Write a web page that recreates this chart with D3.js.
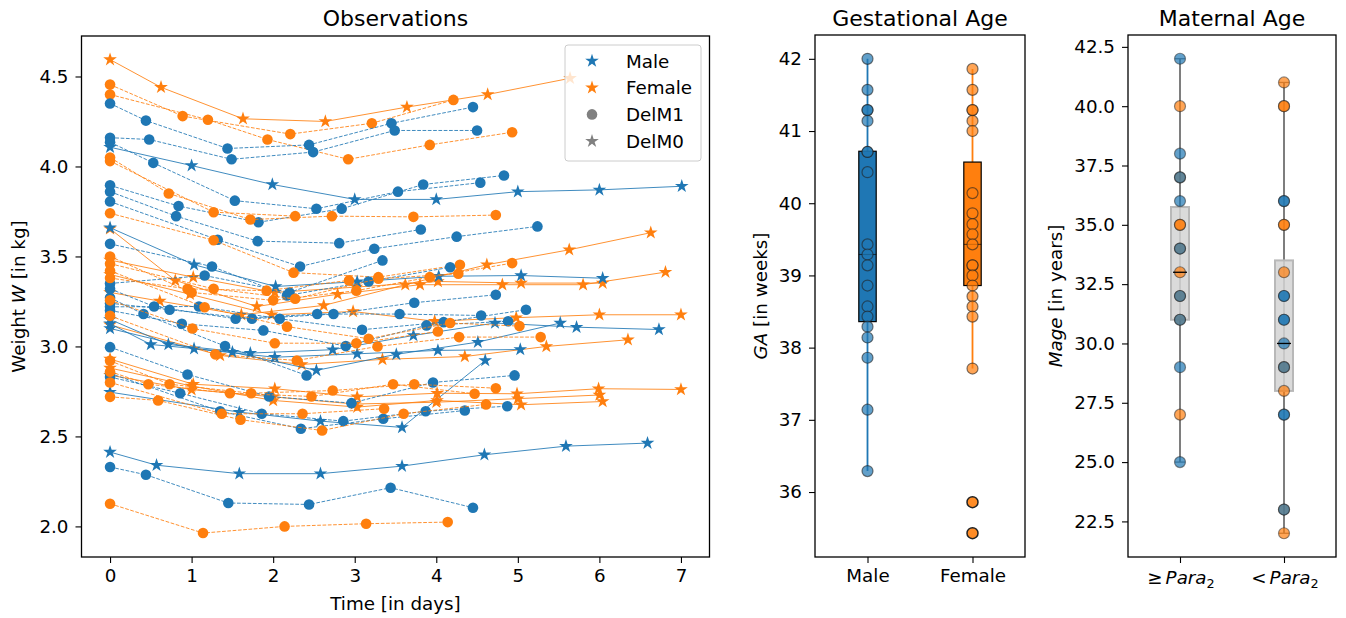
<!DOCTYPE html>
<html>
<head>
<meta charset="utf-8">
<script src="https://cdn.jsdelivr.net/npm/d3@7"></script>
<style>
body { margin: 0; background: #fff; }
text { font-family: "DejaVu Sans", sans-serif; }
</style>
</head>
<body>
<div id="cont"></div>
<script>
// ---- data ----
var sexes = ["F","F","F","M","M","M","M","M","F","F","M","M","F","F","F","F","F","F","M","M","M","M","M","M","M","F","F","F","F",
             "M","M","M","M","M","M","M","M","M","M","F","F","F","F","F","F","F","F","F","F"];
var delm1 = [0,1,1,1,1,0,1,1,1,1,1,1,1,0,0,0,0,0,0,0,0,0,0,0,1,1,0,0,0,
             1,1,1,1,1,1,1,1,1,1,1,1,1,1,1,1,1,1,1,1];
var obsDays = [
  [0,0.625,1.63,2.64,3.64,4.63,5.64],
  [0,0.89,2.21,3.21,4.21],
  [0,1.2,1.93,2.92,3.92,4.93],
  [0,0.44,1.44,2.44,3.45,4.45],
  [0,0.48,1.49,2.49,3.49,4.5],
  [0,1,1.99,3.0,4,5,6,7.01],
  [0,0.53,1.53,2.53,3.53,4.54],
  [0,0.84,1.82,2.84,3.84,4.83],
  [0,0.72,1.72,2.72,3.72,4.73],
  [0,1.27,2.27],
  [0,0.81,1.81,2.81,3.81],
  [0,1.32,2.33,3.24,4.25,5.24],
  [0,1.27,2.25,3.29,4.29],
  [0,0.8,1.8,2.79,3.8,4.81,5.8,6.81],
  [0,0.61,1.61,2.62,3.62,4.62,5.63,6.63],
  [0,1.02,2.02,3.02,4.02,5.04,6.04],
  [0,0.98,1.98,2.98,3.98,4.98,6.0,7.0],
  [0,1.35,2.35,3.34,4.35,5.35,6.35],
  [0,1.03,2.03,3.03,4.03,5.04,6.04],
  [0,0.5,1.5,2.53,3.51,4.51,5.52],
  [0,0.715,1.72,2.73,3.72,4.72,5.72,6.73],
  [0,1.03,2.02,3.03,4.02,5.03],
  [0,1.585,2.58,3.58,4.6],
  [0,0.57,1.585,2.58,3.58,4.59,5.59,6.59],
  [0,0.44,1.45,2.44,3.44,4.45],
  [0,1.14,2.14,3.14,4.14],
  [0,1.02,2.02,3.03,4.01,4.99,5.99,7.0],
  [0,1.0,2.0,3.03,4.01,5.04,6.04],
  [0,1.0,2.0,3.0,4.0,5.0,6.0],
  [0,1.25,2.17,3.17,4.17],
  [0,1.16,2.2,3.34],
  [0,0.54,1.54,2.54,3.55,4.55],
  [0,0.73,1.74,2.74,3.73,4.73],
  [0,1.09,2.08,3.09,4.09,5.1],
  [0,0.88,1.88,2.89,3.88,4.88],
  [0,0.41,1.41,2.41],
  [0,0.95,1.95,2.96,3.96,4.96],
  [0,0.86,1.86,2.86,3.87,4.87],
  [0,1.35,2.34,3.35,4.35],
  [0,1.0,2.0,3.02,3.92,4.93],
  [0,1.27,2.27,3.29,4.27],
  [0,1.16,2.17,3.17,4.17,5.02],
  [0,1.01,2.02,3.02,4.02],
  [0,1.29,2.29,3.28,4.28,5.28],
  [0,0.47,1.47,2.47,3.47,4.47],
  [0,0.73,1.73,2.73,3.73,4.73],
  [0,0.59,1.6,2.6,3.6,4.61],
  [0,1.37,2.36,3.36],
  [0,0.95,1.92,2.93]
];
var obsWeights = [
  [4.594,4.44,4.265,4.25,4.33,4.40,4.49],
  [4.455,4.28,4.18,4.24,4.37],
  [4.40,4.26,4.15,4.04,4.12,4.19],
  [4.35,4.255,4.10,4.12,4.24,4.33],
  [4.16,4.15,4.04,4.08,4.2,4.2],
  [4.107,4.005,3.9,3.817,3.817,3.86,3.87,3.89],
  [4.135,4.02,3.81,3.765,3.86,3.91],
  [3.895,3.78,3.69,3.765,3.9,3.95],
  [4.05,3.85,3.705,3.724,3.72,3.73],
  [4.03,3.746,3.724],
  [3.86,3.724,3.585,3.574,3.65],
  [3.805,3.593,3.444,3.543,3.61,3.667],
  [3.74,3.59,3.41,3.385,3.454],
  [3.654,3.367,3.222,3.29,3.343,3.343,3.343,3.413],
  [3.30,3.252,3.176,3.228,3.343,3.454,3.537,3.632],
  [3.48,3.385,3.30,3.33,3.361,3.352,3.352],
  [3.40,3.29,3.176,3.194,3.14,3.16,3.176,3.176],
  [3.12,2.95,2.90,2.928,2.944,3.0,3.037],
  [3.66,3.454,3.333,3.36,3.39,3.394,3.379],
  [3.126,3.011,2.968,2.867,2.956,3.024,3.13],
  [3.15,3.011,2.963,2.982,3.061,3.13,3.107,3.094],
  [3.10,2.987,2.94,2.959,2.978,2.983],
  [2.746,2.635,2.585,2.55,2.922],
  [2.413,2.34,2.293,2.293,2.335,2.398,2.446,2.463],
  [2.33,2.287,2.13,2.122,2.215,2.104],
  [2.126,1.963,2.0,2.015,2.024],
  [2.93,2.79,2.765,2.72,2.74,2.737,2.765,2.761],
  [2.88,2.78,2.70,2.663,2.70,2.676,2.694],
  [2.84,2.76,2.72,2.68,2.69,2.71,2.73],
  [3.57,3.444,3.283,3.361,3.44],
  [3.35,3.394,3.30,3.478],
  [3.32,3.222,3.154,3.18,3.18,3.172],
  [3.24,3.204,3.154,3.18,3.243,3.287],
  [3.22,3.222,3.154,3.093,3.135,3.204],
  [3.20,3.126,3.089,3.002,3.117,3.14],
  [3.27,3.18,3.002,2.839],
  [2.996,2.844,2.722,2.685,2.80,2.839],
  [2.83,2.74,2.626,2.585,2.64,2.668],
  [2.85,2.64,2.543,2.598,2.644],
  [3.50,3.30,3.256,3.31,3.385,3.463],
  [3.46,3.32,3.265,3.376,3.404],
  [3.42,3.218,3.11,3.043,3.13,3.113],
  [3.256,3.10,3.018,3.018,3.083],
  [3.17,2.956,2.922,3.0,3.052,3.052],
  [2.86,2.79,2.74,2.722,2.79,2.737],
  [2.92,2.79,2.74,2.755,2.79,2.768],
  [2.72,2.70,2.593,2.533,2.626,2.678],
  [2.80,2.626,2.626,2.654],
  [3.38,3.32,3.31,3.367]
];
var dayTicks = [0,1,2,3,4,5,6,7];
var weightTicks = [2.0,2.5,3.0,3.5,4.0,4.5];

var gaGroups = ["Male","Female"];
var gaMale = [42.0,41.57,41.29,41.29,41.14,40.71,40.71,40.43,39.43,39.29,39.14,38.86,38.57,38.43,38.29,38.14,37.86,37.14,36.29];
var gaFemale = [41.86,41.57,41.29,41.29,41.14,41.0,40.14,39.86,39.71,39.57,39.43,39.14,39.14,39.0,38.86,38.71,38.57,38.43,37.71,35.86,35.43];
var gaLow = [36.29,37.71], gaQ1 = [38.36,38.86], gaMed = [39.29,39.43], gaQ3 = [40.72,40.57], gaHigh = [42.0,41.86];
var gaTicks = [36,37,38,39,40,41,42];

var mageHighM = [42,38,37,36,34,32,31,29,25];
var mageHighF = [40,37,35,35,34,33,32,31,27];
var mageLowM = [36,36,32,32,31,31,30,29,27,27,23];
var mageLowF = [41,40,40,35,35,33,29,28,23,22];
var mageLow = [25,22], mageQ1 = [31,28], mageMed = [33,30], mageQ3 = [35.75,33.5], mageHigh = [42,41];
var mageTicks = [22.5,25,27.5,30,32.5,35,37.5,40,42.5];

// ---- drawing ----
var blue = "#1f77b4", orange = "#ff7f0e";
var colorOf = function(s) { return s === "M" ? blue : orange; };
var FS = "18.3px", TS = "22px";

var svg = d3.select("#cont").append("svg").attr("width", 1346).attr("height", 618);

var styleAxis = function(g) {
  g.select(".domain").remove();
  g.selectAll(".tick line").attr("stroke", "#000").attr("stroke-width", 1.1);
  g.selectAll(".tick text").attr("font-size", FS).attr("font-family", "DejaVu Sans").attr("fill", "#000");
};
var frame = function(x0, y0, x1, y1) {
  svg.append("rect").attr("x", x0).attr("y", y0).attr("width", x1 - x0).attr("height", y1 - y0)
    .attr("fill", "none").attr("stroke", "#000").attr("stroke-width", 1.3);
};
var star = d3.symbol().type(d3.symbolStar).size(58);

// Observations panel
var x1 = d3.scaleLinear().domain([-0.35, 7.35]).range([81.5, 709.5]);
var y1 = d3.scaleLinear().domain([1.83, 4.725]).range([557, 36]);

svg.append("g").attr("transform", "translate(0,557)")
  .call(d3.axisBottom(x1).tickValues(dayTicks).tickSize(6).tickPadding(6).tickFormat(d3.format("d")))
  .call(styleAxis);
svg.append("g").attr("transform", "translate(81.5,0)")
  .call(d3.axisLeft(y1).tickValues(weightTicks).tickSize(6).tickPadding(7).tickFormat(d3.format(".1f")))
  .call(styleAxis);

var line1 = d3.line().x(function(p) { return x1(p[0]); }).y(function(p) { return y1(p[1]); });
var plot1 = svg.append("g");
obsDays.forEach(function(ds, k) {
  var pts = ds.map(function(d, i) { return [d, obsWeights[k][i]]; });
  var c = colorOf(sexes[k]);
  var g = plot1.append("g");
  g.append("path").attr("d", line1(pts)).attr("fill", "none").attr("stroke", c)
    .attr("stroke-width", 1).attr("stroke-opacity", 0.85)
    .attr("stroke-dasharray", delm1[k] ? "3.7,1.6" : null);
  if (delm1[k]) {
    g.selectAll("circle").data(pts).enter().append("circle")
      .attr("cx", function(p) { return x1(p[0]); }).attr("cy", function(p) { return y1(p[1]); })
      .attr("r", 5.3).attr("fill", c);
  } else {
    g.selectAll("path.m").data(pts).enter().append("path").attr("class", "m")
      .attr("d", star).attr("fill", c)
      .attr("transform", function(p) { return "translate(" + x1(p[0]) + "," + y1(p[1]) + ")"; });
  }
});
frame(81.5, 36, 709.5, 557);

// legend
var leg = svg.append("g");
leg.append("rect").attr("x", 565).attr("y", 45).attr("width", 136).attr("height", 116).attr("rx", 3)
  .attr("fill", "#fff").attr("fill-opacity", 0.8).attr("stroke", "#ccc");
var legItems = [["Male", blue, "star"], ["Female", orange, "star"], ["DelM1", "#808080", "circle"], ["DelM0", "#808080", "star"]];
legItems.forEach(function(it, i) {
  var yy = 61 + i * 26.7;
  if (it[2] === "star") {
    leg.append("path").attr("d", star).attr("fill", it[1]).attr("transform", "translate(592," + yy + ")");
  } else {
    leg.append("circle").attr("cx", 592).attr("cy", yy).attr("r", 5.3).attr("fill", it[1]);
  }
  leg.append("text").attr("x", 626).attr("y", yy + 6.5).attr("font-size", FS).text(it[0]);
});

svg.append("text").attr("x", 395.5).attr("y", 26).attr("text-anchor", "middle").attr("font-size", TS).text("Observations");
svg.append("text").attr("x", 395.5).attr("y", 610).attr("text-anchor", "middle").attr("font-size", FS).text("Time [in days]");
var yl1 = svg.append("text").attr("transform", "translate(25,296.5) rotate(-90)").attr("text-anchor", "middle").attr("font-size", FS);
yl1.append("tspan").text("Weight ");
yl1.append("tspan").attr("font-style", "italic").text("W");
yl1.append("tspan").text(" [in kg]");

// Gestational Age panel
var x2 = d3.scaleLinear().domain([0.5, 2.5]).range([815, 1025]);
var y2 = d3.scaleLinear().domain([35.1, 42.33]).range([557, 35]);
svg.append("g").attr("transform", "translate(0,557)")
  .call(d3.axisBottom(x2).tickValues([1, 2]).tickSize(6).tickPadding(6).tickFormat(function(d) { return gaGroups[d - 1]; }))
  .call(styleAxis);
svg.append("g").attr("transform", "translate(815,0)")
  .call(d3.axisLeft(y2).tickValues(gaTicks).tickSize(6).tickPadding(7).tickFormat(d3.format("d")))
  .call(styleAxis);

var gaCols = [blue, orange];
var gaData = [gaMale, gaFemale];
[0, 1].forEach(function(i) {
  var cx = x2(i + 1), c = gaCols[i];
  svg.append("line").attr("x1", cx).attr("x2", cx).attr("y1", y2(gaLow[i])).attr("y2", y2(gaHigh[i]))
    .attr("stroke", c).attr("stroke-width", 1.8);
  svg.append("rect").attr("x", cx - 8.7).attr("width", 17.4).attr("y", y2(gaQ3[i])).attr("height", y2(gaQ1[i]) - y2(gaQ3[i]))
    .attr("fill", c).attr("stroke", "#000").attr("stroke-width", 1.2);
  svg.append("line").attr("x1", cx - 8.7).attr("x2", cx + 8.7).attr("y1", y2(gaMed[i])).attr("y2", y2(gaMed[i]))
    .attr("stroke", "#000").attr("stroke-width", 1.1).attr("stroke-opacity", 0.6);
  svg.append("g").selectAll("circle").data(gaData[i]).enter().append("circle")
    .attr("cx", cx).attr("cy", function(v) { return y2(v); }).attr("r", 5.5)
    .attr("fill", c)
    .attr("fill-opacity", function(v) { return v < gaLow[i] ? 0.9 : 0.7; })
    .attr("stroke", "#222")
    .attr("stroke-opacity", function(v) { return v < gaLow[i] ? 1 : 0.6; })
    .attr("stroke-width", function(v) { return v < gaLow[i] ? 1.5 : 1.2; });
});
frame(815, 35, 1025, 557);
svg.append("text").attr("x", 920).attr("y", 26).attr("text-anchor", "middle").attr("font-size", TS).text("Gestational Age");
var yl2 = svg.append("text").attr("transform", "translate(767,296) rotate(-90)").attr("text-anchor", "middle").attr("font-size", FS);
yl2.append("tspan").attr("font-style", "italic").text("GA");
yl2.append("tspan").text(" [in weeks]");

// Maternal Age panel
var x3 = d3.scaleLinear().domain([0.5, 2.5]).range([1128, 1336]);
var y3 = d3.scaleLinear().domain([21, 43]).range([557, 35]);
svg.append("g").attr("transform", "translate(0,557)")
  .call(d3.axisBottom(x3).tickValues([1, 2]).tickSize(6).tickPadding(6).tickFormat(""))
  .call(styleAxis);
svg.append("g").attr("transform", "translate(1128,0)")
  .call(d3.axisLeft(y3).tickValues(mageTicks).tickSize(6).tickPadding(7).tickFormat(d3.format(".1f")))
  .call(styleAxis);
["\u2265", "<"].forEach(function(sym, i) {
  var t = svg.append("text").attr("x", x3(i + 1) + 1).attr("y", 584).attr("text-anchor", "middle").attr("font-size", FS);
  t.append("tspan").text(sym);
  t.append("tspan").attr("font-style", "italic").attr("dx", 3).text("Para");
  t.append("tspan").attr("font-size", "12.8px").attr("dy", 3.5).text("2");
});

var mageF = [mageHighF, mageLowF], mageM = [mageHighM, mageLowM];
[0, 1].forEach(function(i) {
  var cx = x3(i + 1);
  svg.append("line").attr("x1", cx).attr("x2", cx).attr("y1", y3(mageLow[i])).attr("y2", y3(mageHigh[i]))
    .attr("stroke", "#707070").attr("stroke-width", 1.8);
  [mageLow[i], mageHigh[i]].forEach(function(v) {
    svg.append("line").attr("x1", cx - 5).attr("x2", cx + 5).attr("y1", y3(v)).attr("y2", y3(v))
      .attr("stroke", "#707070").attr("stroke-width", 1.3);
  });
  svg.append("rect").attr("x", cx - 9).attr("width", 18).attr("y", y3(mageQ3[i])).attr("height", y3(mageQ1[i]) - y3(mageQ3[i]))
    .attr("fill", "#d3d3d3").attr("fill-opacity", 0.85).attr("stroke", "#b8b8b8").attr("stroke-width", 2);
  [[mageF[i], orange], [mageM[i], blue]].forEach(function(pair) {
    svg.append("g").selectAll("circle").data(pair[0]).enter().append("circle")
      .attr("cx", cx).attr("cy", function(v) { return y3(v); }).attr("r", 5.5)
      .attr("fill", pair[1]).attr("fill-opacity", 0.7).attr("stroke", "#222").attr("stroke-opacity", 0.5).attr("stroke-width", 1.2);
  });
  svg.append("line").attr("x1", cx - 7).attr("x2", cx + 7).attr("y1", y3(mageMed[i])).attr("y2", y3(mageMed[i]))
    .attr("stroke", "#000").attr("stroke-width", 1.3);
});
frame(1128, 35, 1336, 557);
svg.append("text").attr("x", 1232).attr("y", 26).attr("text-anchor", "middle").attr("font-size", TS).text("Maternal Age");
var yl3 = svg.append("text").attr("transform", "translate(1062,296) rotate(-90)").attr("text-anchor", "middle").attr("font-size", FS);
yl3.append("tspan").attr("font-style", "italic").text("Mage");
yl3.append("tspan").text(" [in years]");
</script>
</body>
</html>
